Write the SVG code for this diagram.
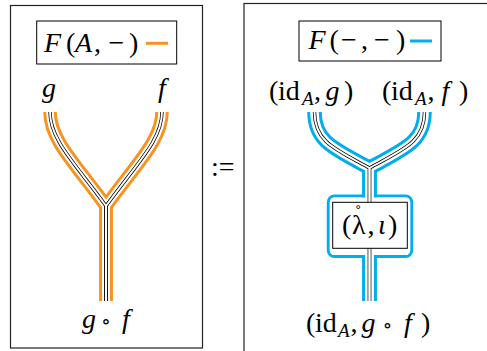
<svg xmlns="http://www.w3.org/2000/svg" width="487" height="351" viewBox="0 0 487 351">
<style>
text{font-family:"Liberation Serif","DejaVu Serif",serif;font-size:28px;fill:#000}
.i{font-style:italic}
.sub{font-size:19px;font-style:italic}
.frame{fill:none;stroke:#222;stroke-width:1.2}
.lbl{fill:#fff;stroke:#000;stroke-width:1}
.s{fill:none;stroke-linecap:butt;stroke-linejoin:miter}
.or{stroke:#F7931E;stroke-width:13.5}
.bl{stroke:#00AEEF;stroke-width:14.5}
.wo{stroke:#fff;stroke-width:7.5}
.wb{stroke:#fff;stroke-width:8.5}
.bk{stroke:#000;stroke-width:3.4}
.wi{stroke:#fff;stroke-width:1.9}
.op{font-family:"DejaVu Serif",serif;font-size:20px}
</style>
<defs>
<path id="pl1" d="M50,112 C50,140 75,163 106,206 L106,301"/>
<path id="pl2" d="M162,112 C162,140 137,163 106,206 L106,301"/>
<path id="pr1" d="M314.5,112 C314.5,142 335,149 369.5,168 L369.5,301"/>
<path id="pr2" d="M424.5,112 C424.5,142 404,149 369.5,168 L369.5,301"/>
</defs>

<g id="left-panel">
<rect class="frame" x="10.5" y="5.5" width="192" height="342.5"/>
<g id="left-label">
<rect class="lbl" x="36.7" y="21" width="140" height="43"/>
<text y="52"><tspan x="44" class="i">F</tspan><tspan x="66">(</tspan><tspan x="75" class="i">A</tspan><tspan x="94">,</tspan><tspan x="108.5">−</tspan><tspan x="129">)</tspan></text>
<line x1="146" y1="43.3" x2="168" y2="43.3" stroke="#F7931E" stroke-width="3"/>
</g>
<text id="lab-g" class="i" x="42" y="96.5">g</text>
<text id="lab-f" class="i" x="158" y="96.5">f</text>
<text id="lab-gf" y="328"><tspan x="82" class="i">g</tspan><tspan x="101" class="op">∘</tspan><tspan x="122" class="i">f</tspan></text>
</g>

<g id="connectors">
<g id="left-strands" class="s">
<use href="#pl1" class="or"/><use href="#pl2" class="or"/>
<use href="#pl1" class="wo"/><use href="#pl2" class="wo"/>
<use href="#pl1" class="bk"/><use href="#pl2" class="bk"/>
<use href="#pl1" class="wi"/><use href="#pl2" class="wi"/>
</g>
<g id="right-strands" class="s">
<rect x="328.3" y="196" width="83.4" height="60.5" rx="6" fill="none" stroke="#00AEEF" stroke-width="3"/>
<use href="#pr1" class="bl"/><use href="#pr2" class="bl"/>
<rect x="329.8" y="197.5" width="80.4" height="57.5" rx="4.5" fill="#fff" stroke="none"/>
<use href="#pr1" class="wb"/><use href="#pr2" class="wb"/>
<use href="#pr1" class="bk"/><use href="#pr2" class="bk"/>
<use href="#pr1" class="wi"/><use href="#pr2" class="wi"/>
</g>
</g>

<text id="defeq" x="211" y="176">:=</text>

<g id="right-panel">
<rect class="frame" x="244" y="3.5" width="300" height="400"/>
<g id="right-label">
<rect class="lbl" x="299" y="21" width="142" height="40"/>
<text y="48.5"><tspan x="308.5" class="i">F</tspan><tspan x="329.5">(</tspan><tspan x="341">−</tspan><tspan x="361">,</tspan><tspan x="374">−</tspan><tspan x="396">)</tspan></text>
<line x1="410" y1="41" x2="432" y2="41" stroke="#00AEEF" stroke-width="3"/>
</g>
<text id="lab-idg" y="100"><tspan x="269">(</tspan><tspan x="278">id</tspan><tspan x="302" y="105" class="sub">A</tspan><tspan x="314" y="100">,</tspan><tspan x="325.5" class="i">g</tspan><tspan x="344">)</tspan></text>
<text id="lab-idf" y="100"><tspan x="382">(</tspan><tspan x="391">id</tspan><tspan x="415" y="105" class="sub">A</tspan><tspan x="427.5" y="100">,</tspan><tspan x="441.5" class="i">f</tspan><tspan x="459">)</tspan></text>
<g id="box-lambda-iota">
<rect class="lbl" x="332.7" y="202.3" width="74.6" height="46"/>
<text y="234"><tspan x="342">(</tspan><tspan x="352">λ</tspan><tspan x="355" y="218.5" style="font-size:19px">˚</tspan><tspan x="367.5" y="234">,</tspan><tspan x="378" class="i">ι</tspan><tspan x="388">)</tspan></text>
</g>
<text id="lab-idgf" y="332"><tspan x="306">(</tspan><tspan x="315">id</tspan><tspan x="338" y="337" class="sub">A</tspan><tspan x="350.5" y="332">,</tspan><tspan x="361.5" class="i">g</tspan><tspan x="382.5" class="op">∘</tspan><tspan x="404" class="i">f</tspan><tspan x="421">)</tspan></text>
</g>
</svg>
